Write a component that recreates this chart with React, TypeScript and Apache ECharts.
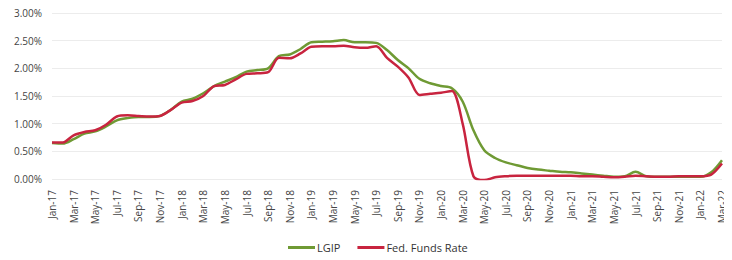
import React, { useEffect, useRef } from "react";
import * as echarts from "echarts";

const months = [
  "Jan-17","Feb-17","Mar-17","Apr-17","May-17","Jun-17","Jul-17","Aug-17","Sep-17","Oct-17","Nov-17","Dec-17",
  "Jan-18","Feb-18","Mar-18","Apr-18","May-18","Jun-18","Jul-18","Aug-18","Sep-18","Oct-18","Nov-18","Dec-18",
  "Jan-19","Feb-19","Mar-19","Apr-19","May-19","Jun-19","Jul-19","Aug-19","Sep-19","Oct-19","Nov-19","Dec-19",
  "Jan-20","Feb-20","Mar-20","Apr-20","May-20","Jun-20","Jul-20","Aug-20","Sep-20","Oct-20","Nov-20","Dec-20",
  "Jan-21","Feb-21","Mar-21","Apr-21","May-21","Jun-21","Jul-21","Aug-21","Sep-21","Oct-21","Nov-21","Dec-21",
  "Jan-22","Feb-22","Mar-22",
];

const lgip = [
  0.65,0.64,0.72,0.82,0.86,0.95,1.06,1.10,1.12,1.12,1.14,1.25,
  1.40,1.45,1.55,1.68,1.76,1.84,1.94,1.97,2.00,2.22,2.25,2.35,
  2.47,2.48,2.49,2.51,2.47,2.47,2.46,2.33,2.15,2.00,1.81,1.73,
  1.68,1.64,1.40,0.88,0.52,0.38,0.30,0.25,0.20,0.17,0.15,0.13,
  0.12,0.10,0.08,0.06,0.04,0.05,0.13,0.05,0.04,0.04,0.04,0.04,
  0.04,0.12,0.34,
];

const fed = [
  0.66,0.66,0.79,0.85,0.88,0.98,1.13,1.15,1.14,1.13,1.14,1.25,
  1.38,1.41,1.50,1.68,1.70,1.80,1.90,1.91,1.93,2.19,2.18,2.27,
  2.39,2.40,2.40,2.41,2.38,2.37,2.40,2.19,2.03,1.83,1.52,1.54,
  1.56,1.59,1.00,0.05,-0.02,0.03,0.05,0.06,0.06,0.06,0.06,0.06,
  0.06,0.05,0.05,0.04,0.03,0.04,0.06,0.05,0.04,0.04,0.05,0.05,
  0.05,0.08,0.28,
];

const yTicks = [0, 0.5, 1, 1.5, 2, 2.5, 3];

export default function App() {
  const ref = useRef<HTMLDivElement>(null);
  useEffect(() => {
    if (!ref.current) return;
    const chart = echarts.init(ref.current, null, { renderer: "svg" });
    chart.setOption({
      animation: false,
      backgroundColor: "#ffffff",
      grid: { left: 52, right: 10, top: 13, bottom: 81 },
      legend: {
        bottom: 2,
        left: 283,
        itemWidth: 27,
        itemHeight: 3,
        itemGap: 17,
        icon: "rect",
        textStyle: { fontFamily: "Open Sans", fontSize: 11, color: "#333", padding: [0, 0, 0, -3] },
        data: ["LGIP", "Fed. Funds Rate"],
      },
      xAxis: {
        type: "category",
        data: months,
        boundaryGap: false,
        axisLine: { show: false },
        axisTick: { show: false },
        axisLabel: {
          interval: 1,
          rotate: 90,
          fontFamily: "Open Sans",
          fontSize: 10,
          color: "#444",
          margin: 11,
          hideOverlap: false,
        },
      },
      yAxis: {
        type: "value",
        min: yTicks[0],
        max: yTicks[yTicks.length - 1],
        interval: 0.5,
        axisLine: { show: false },
        axisTick: { show: false },
        axisLabel: {
          formatter: (v: number) => v.toFixed(2) + "%",
          fontFamily: "Open Sans",
          fontSize: 10,
          color: "#444",
          margin: 10,
        },
        splitLine: { lineStyle: { color: "#ececec", width: 1 } },
      },
      series: [
        {
          name: "LGIP",
          type: "line",
          data: lgip,
          smooth: 0.3,
          showSymbol: false,
          lineStyle: { color: "#6f9a34", width: 2.5 },
          itemStyle: { color: "#6f9a34" },
          z: 2,
        },
        {
          name: "Fed. Funds Rate",
          type: "line",
          data: fed,
          smooth: 0.3,
          showSymbol: false,
          lineStyle: { color: "#c8243f", width: 2.5 },
          itemStyle: { color: "#c8243f" },
          z: 3,
        },
      ],
    });
    return () => chart.dispose();
  }, []);
  return <div ref={ref} style={{ width: 732, height: 260, margin: -8 }} />;
}
